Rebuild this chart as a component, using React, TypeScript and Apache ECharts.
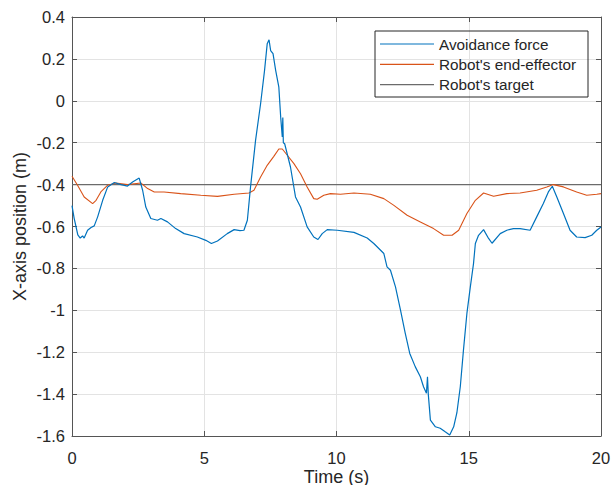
import React, { useEffect, useRef } from "react";
import * as echarts from "echarts";

const timeAvoid = [0, 0.08, 0.15, 0.22, 0.31, 0.4, 0.46, 0.59, 0.72, 0.84, 0.97, 1.16, 1.35, 1.6, 1.85, 2.1, 2.29, 2.54, 2.67, 2.79, 2.98, 3.23, 3.36, 3.61, 3.92, 4.24, 4.74, 5.06, 5.27, 5.5, 5.87, 6.13, 6.35, 6.5, 6.63, 6.75, 6.94, 7.13, 7.28, 7.38, 7.45, 7.51, 7.6, 7.7, 7.82, 7.89, 7.95, 7.97, 7.99, 8.04, 8.26, 8.45, 8.64, 8.89, 9.14, 9.3, 9.46, 9.65, 10.03, 10.66, 11.16, 11.41, 11.79, 11.91, 12.04, 12.23, 12.42, 12.6, 12.77, 12.98, 13.17, 13.29, 13.4, 13.44, 13.47, 13.55, 13.74, 13.92, 14.11, 14.28, 14.43, 14.55, 14.68, 14.8, 14.93, 15.06, 15.18, 15.25, 15.37, 15.56, 15.75, 15.88, 16.19, 16.44, 16.69, 16.94, 17.32, 17.57, 17.82, 18.01, 18.16, 18.33, 18.58, 18.83, 19.08, 19.4, 19.65, 19.84, 20];
const avoidanceForce = [-0.5, -0.56, -0.6, -0.64, -0.655, -0.645, -0.655, -0.618, -0.605, -0.597, -0.554, -0.475, -0.411, -0.39, -0.4, -0.407, -0.388, -0.369, -0.427, -0.507, -0.562, -0.57, -0.562, -0.578, -0.61, -0.634, -0.65, -0.666, -0.681, -0.669, -0.634, -0.615, -0.62, -0.618, -0.57, -0.411, -0.189, -0.014, 0.145, 0.272, 0.291, 0.24, 0.225, 0.145, 0.065, -0.078, -0.173, -0.08, -0.2, -0.205, -0.316, -0.459, -0.507, -0.602, -0.65, -0.662, -0.634, -0.615, -0.618, -0.628, -0.655, -0.681, -0.729, -0.793, -0.809, -0.888, -0.999, -1.11, -1.206, -1.27, -1.317, -1.365, -1.396, -1.317, -1.4, -1.524, -1.556, -1.563, -1.58, -1.595, -1.556, -1.49, -1.365, -1.19, -1.015, -0.888, -0.777, -0.681, -0.642, -0.615, -0.657, -0.68, -0.634, -0.618, -0.61, -0.61, -0.618, -0.554, -0.49, -0.435, -0.408, -0.459, -0.538, -0.618, -0.65, -0.653, -0.642, -0.618, -0.602];

const timeEffector = [0, 0.21, 0.46, 0.78, 0.91, 1.09, 1.35, 1.66, 2.1, 2.6, 2.86, 3.11, 3.48, 4.11, 4.87, 5.5, 6.13, 6.69, 6.88, 7.13, 7.38, 7.63, 7.82, 7.95, 8.14, 8.39, 8.64, 8.89, 9.14, 9.27, 9.52, 9.77, 10.15, 10.66, 11.28, 11.79, 12.17, 12.67, 13.17, 13.67, 14.05, 14.37, 14.62, 14.93, 15.25, 15.56, 15.94, 16.44, 16.94, 17.57, 17.95, 18.2, 18.58, 19.08, 19.46, 19.84, 20];
const endEffector = [-0.36, -0.403, -0.459, -0.491, -0.475, -0.435, -0.403, -0.392, -0.4, -0.392, -0.419, -0.435, -0.435, -0.443, -0.451, -0.456, -0.446, -0.44, -0.427, -0.364, -0.308, -0.265, -0.23, -0.23, -0.26, -0.3, -0.348, -0.411, -0.467, -0.47, -0.451, -0.443, -0.446, -0.44, -0.446, -0.467, -0.499, -0.546, -0.578, -0.61, -0.642, -0.642, -0.618, -0.538, -0.475, -0.44, -0.456, -0.443, -0.44, -0.427, -0.411, -0.4, -0.411, -0.435, -0.451, -0.446, -0.443];

const timeTarget = [0, 20];
const target = [-0.4, -0.4];

const seriesNames = ["Avoidance force", "Robot's end-effector", "Robot's target"];
const seriesColors = ["#0072BD", "#D95319", "#6b6b6b"];

const FONT = "'Liberation Sans', Arial, Helvetica, sans-serif";
const TEXT = "#262626";
const AXIS = "#555555";

const zip = (t: number[], v: number[]) => t.map((x, i) => [x, v[i]]);

export default function App() {
  const ref = useRef<HTMLDivElement>(null);
  useEffect(() => {
    if (!ref.current) return;
    const chart = echarts.init(ref.current, undefined, { renderer: "svg" });
    const fmt = (v: number) => String(+v.toFixed(1));
    const boxAxis = {
      axisLine: { show: true, onZero: false, lineStyle: { color: AXIS, width: 1 } },
      axisTick: { show: true, inside: true, length: 5, lineStyle: { color: AXIS } },
      axisLabel: { show: false },
      splitLine: { show: false },
    };
    chart.setOption({
      animation: false,
      textStyle: { fontFamily: FONT },
      grid: { left: 72, right: 13, top: 17, bottom: 49, containLabel: false, outerBoundsMode: "none" },
      xAxis: [
        {
          type: "value",
          min: 0,
          max: 20,
          interval: 5,
          name: "Time (s)",
          nameLocation: "middle",
          nameMoveOverlap: false,
          nameGap: 32,
          nameTextStyle: { fontSize: 18, color: TEXT, fontFamily: FONT },
          axisLine: { show: true, onZero: false, lineStyle: { color: AXIS, width: 1 } },
          axisTick: { show: true, inside: true, length: 5, lineStyle: { color: AXIS } },
          axisLabel: { fontSize: 16.5, color: TEXT, margin: 13, fontFamily: FONT, formatter: fmt },
          splitLine: { show: true, lineStyle: { color: "#e3e3e3", width: 1 } },
        },
        { type: "value", position: "top", min: 0, max: 20, interval: 5, ...boxAxis },
      ],
      yAxis: [
        {
          type: "value",
          min: -1.6,
          max: 0.4,
          interval: 0.2,
          name: "X-axis position (m)",
          nameLocation: "middle",
          nameMoveOverlap: false,
          nameGap: 43,
          nameTextStyle: { fontSize: 18, color: TEXT, fontFamily: FONT },
          axisLine: { show: true, onZero: false, lineStyle: { color: AXIS, width: 1 } },
          axisTick: { show: true, inside: true, length: 5, lineStyle: { color: AXIS } },
          axisLabel: { fontSize: 16.5, color: TEXT, margin: 7, fontFamily: FONT, formatter: fmt },
          splitLine: { show: true, lineStyle: { color: "#e3e3e3", width: 1 } },
        },
        { type: "value", position: "right", min: -1.6, max: 0.4, interval: 0.2, ...boxAxis },
      ],
      legend: {
        orient: "vertical",
        left: 375,
        top: 31,
        padding: [3, 0, 0, 5],
        icon: "rect",
        itemWidth: 54,
        itemHeight: 1.2,
        itemGap: 0.3,
        textStyle: { fontSize: 15.3, color: TEXT, fontFamily: FONT, lineHeight: 20 },
        data: seriesNames,
      },
      graphic: [
        {
          type: "rect",
          shape: { x: 375, y: 31, width: 213, height: 66 },
          style: { fill: "none", stroke: "#262626", lineWidth: 1 },
          z: 100,
        },
      ],
      series: [
        {
          name: seriesNames[0],
          type: "line",
          data: zip(timeAvoid, avoidanceForce),
          showSymbol: false,
          symbol: "none",
          lineStyle: { color: seriesColors[0], width: 1.2 },
          itemStyle: { color: seriesColors[0] },
          z: 4,
        },
        {
          name: seriesNames[1],
          type: "line",
          data: zip(timeEffector, endEffector),
          showSymbol: false,
          symbol: "none",
          lineStyle: { color: seriesColors[1], width: 1.1 },
          itemStyle: { color: seriesColors[1] },
          z: 3,
        },
        {
          name: seriesNames[2],
          type: "line",
          data: zip(timeTarget, target),
          showSymbol: false,
          symbol: "none",
          lineStyle: { color: seriesColors[2], width: 1.1 },
          itemStyle: { color: seriesColors[2] },
          z: 2,
        },
      ],
    });
    return () => chart.dispose();
  }, []);
  return (
    <div
      ref={ref}
      style={{ position: "fixed", left: 0, top: 0, width: 614, height: 485, background: "#fff" }}
    />
  );
}
